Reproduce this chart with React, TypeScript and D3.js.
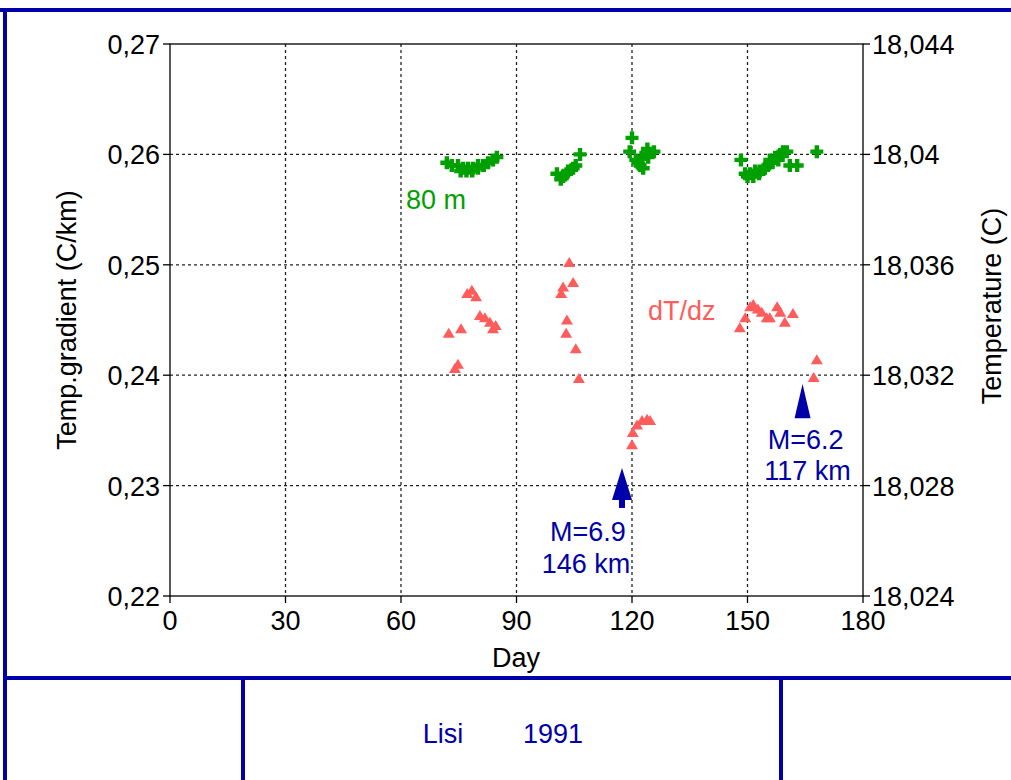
import React from "react";
import * as d3 from "d3";

// ---- data ----
const xTicks = [0, 30, 60, 90, 120, 150, 180];
const leftTicks = [0.22, 0.23, 0.24, 0.25, 0.26, 0.27];
const rightTicks = [18.024, 18.028, 18.032, 18.036, 18.04, 18.044];

// 80 m temperature (C), right axis
const tempDays = [71.9, 73.2, 74.8, 76.1, 77.4, 78.7, 80.0, 81.3, 82.6, 83.9, 84.9,
  75.5, 77.0, 78.5, 80.0, 81.5,
  100.5, 102.1, 103.4, 104.7, 105.4, 106.5, 101.5, 103.0,
  119.4, 120.0, 121.0, 122.1, 122.9, 124.2, 125.7, 123.7, 121.5, 122.5, 124.0,
  148.3, 149.4, 150.7, 152.0, 153.2, 154.5, 155.3, 155.8, 157.2, 158.0, 159.2, 160.2, 161.0, 162.9, 168.0,
  150.0, 151.5, 153.0, 156.5, 158.5];
const tempVals = [18.0397, 18.0396, 18.0396, 18.0395, 18.0395, 18.0395, 18.0396, 18.0396, 18.0397, 18.0398, 18.0399,
  18.0394, 18.0394, 18.0394, 18.0395, 18.0396,
  18.0393, 18.0392, 18.0394, 18.0395, 18.0396, 18.0400, 18.0391, 18.0393,
  18.0401, 18.0406, 18.0398, 18.0396, 18.0395, 18.0399, 18.0401, 18.0400, 18.0397, 18.0399, 18.0402,
  18.0398, 18.0393, 18.0393, 18.0394, 18.0394, 18.0395, 18.0396, 18.0398, 18.0399, 18.0398, 18.0401, 18.0401, 18.0396, 18.0396, 18.0401,
  18.0392, 18.0392, 18.0393, 18.0397, 18.0400];

// dT/dz (C/km), left axis
const gradDays = [72.4, 74.0, 74.8, 75.6, 77.2, 78.4, 79.5, 80.5, 81.8, 83.1, 83.9, 84.6,
  101.6, 102.1, 103.7, 104.7, 103.1, 102.9, 105.4, 106.2,
  120.0, 120.2, 121.3, 122.6, 123.9, 124.7,
  148.0, 149.4, 150.7, 151.5, 152.7, 153.7, 155.0, 155.8, 157.7, 158.5, 159.7, 161.8, 168.0, 167.2];
const gradVals = [0.2438, 0.2406, 0.2410, 0.2442, 0.2474, 0.2477, 0.2471, 0.2454, 0.2452, 0.2448, 0.2442, 0.2445,
  0.2474, 0.2480, 0.2502, 0.2484, 0.2450, 0.2438, 0.2424, 0.2397,
  0.2337, 0.2348, 0.2355, 0.2359, 0.2360, 0.2359,
  0.2443, 0.2452, 0.2462, 0.2464, 0.2460, 0.2457, 0.2452, 0.2452, 0.2462, 0.2457, 0.2448, 0.2456, 0.2414, 0.2398];

// earthquakes
const quakeDays = [117.4, 164.3];
const quakeMags = ["6.9", "6.2"];
const quakeDist = ["146 km", "117 km"];
const quakeBase = [0.2287, 0.2361];
const quakeTip = [0.2316, 0.2392];

const GREEN = "#00a000";
const RED = "#ff5c5c";
const BLUE = "#0000a8";
const FONT = "'Liberation Sans', Arial, sans-serif";

export default function App() {
  const x = d3.scaleLinear().domain([0, 180]).range([170, 863]);
  const yL = d3.scaleLinear().domain([0.22, 0.27]).range([596, 44]);
  const yR = d3.scaleLinear().domain([18.024, 18.044]).range([596, 44]);
  const fmtL = (v: number) => d3.format(".2f")(v).replace(".", ",");
  const fmtR = (v: number) => {
    const s = d3.format(".3f")(v);
    return (s.endsWith("0") ? s.slice(0, -1) : s).replace(".", ",");
  };
  const fs = 27;

  const cross = (cx: number, cy: number, k: number) => (
    <path key={k} d={`M${cx - 6.5},${cy - 2.2}h4.3v-4.3h4.4v4.3h4.3v4.4h-4.3v4.3h-4.4v-4.3h-4.3z`} fill={GREEN} />
  );
  const tri = (cx: number, cy: number, k: number) => (
    <path key={k} d={`M${cx},${cy - 5.5}L${cx + 6},${cy + 4.5}L${cx - 6},${cy + 4.5}Z`} fill={RED} />
  );

  return (
    <svg width={1011} height={780} style={{ position: "absolute", left: 0, top: 0, background: "#fff" }}
      fontFamily={FONT}>
      {/* frame */}
      <g stroke={BLUE} strokeWidth={4} fill="none">
        <line x1={0} y1={10} x2={1011} y2={10} />
        <line x1={5} y1={8} x2={5} y2={780} />
        <line x1={3} y1={678} x2={1011} y2={678} />
        <line x1={243} y1={678} x2={243} y2={780} />
        <line x1={781} y1={678} x2={781} y2={780} />
      </g>
      <text x={443} y={743} fontSize={fs} fill={BLUE} textAnchor="middle">Lisi</text>
      <text x={553} y={743} fontSize={fs} fill={BLUE} textAnchor="middle">1991</text>

      {/* grid */}
      <g stroke="#222" strokeWidth={1.3} strokeDasharray="3,3">
        {xTicks.slice(1, -1).map((t) => (
          <line key={"gx" + t} x1={x(t)} x2={x(t)} y1={44} y2={596} />
        ))}
        {leftTicks.slice(1, -1).map((t) => (
          <line key={"gy" + t} x1={170} x2={863} y1={yL(t)} y2={yL(t)} />
        ))}
      </g>

      {/* axes frame */}
      <rect x={170} y={44} width={693} height={552} fill="none" stroke="#000" strokeWidth={1.3} />
      <g stroke="#000" strokeWidth={1.3}>
        {xTicks.map((t) => (
          <line key={"tx" + t} x1={x(t)} x2={x(t)} y1={596} y2={603} />
        ))}
        {leftTicks.map((t) => (
          <line key={"tl" + t} x1={163} x2={170} y1={yL(t)} y2={yL(t)} />
        ))}
        {rightTicks.map((t) => (
          <line key={"tr" + t} x1={863} x2={870} y1={yR(t)} y2={yR(t)} />
        ))}
      </g>
      <g fontSize={fs} fill="#000">
        {xTicks.map((t) => (
          <text key={"lx" + t} x={x(t)} y={630} textAnchor="middle">{t}</text>
        ))}
        {leftTicks.map((t) => (
          <text key={"ll" + t} x={160} y={yL(t) + 10} textAnchor="end">{fmtL(t)}</text>
        ))}
        {rightTicks.map((t) => (
          <text key={"lr" + t} x={872} y={yR(t) + 10} textAnchor="start">{fmtR(t)}</text>
        ))}
        <text x={516} y={667} textAnchor="middle">Day</text>
        <text transform={`translate(76,320) rotate(-90)`} textAnchor="middle">Temp.gradient (C/km)</text>
        <text transform={`translate(1001,306) rotate(-90)`} textAnchor="middle">Temperature (C)</text>
      </g>

      {/* series */}
      <g>{tempDays.map((d, i) => cross(x(d), yR(tempVals[i]), i))}</g>
      <g>{gradDays.map((d, i) => tri(x(d), yL(gradVals[i]), i))}</g>

      {/* earthquakes */}
      {quakeDays.map((d, i) => {
        const cx = x(d);
        const b = yL(quakeBase[i]);
        const t = yL(quakeTip[i]);
        const w = i === 0 ? 10 : 8;
        return (
          <g key={"q" + i} fill={BLUE}>
            <path d={`M${cx},${t}L${cx + w},${b}L${cx - w},${b}Z`} />
            {i === 0 && <rect x={cx - 3} y={b} width={6} height={8} />}
          </g>
        );
      })}
      <g fontSize={fs} fill={BLUE} textAnchor="middle">
        <text x={x(quakeDays[0]) - 34} y={541}>{"M=" + quakeMags[0]}</text>
        <text x={x(quakeDays[0]) - 36} y={573}>{quakeDist[0]}</text>
        <text x={x(quakeDays[1]) + 3} y={449}>{"M=" + quakeMags[1]}</text>
        <text x={x(quakeDays[1]) + 5} y={480}>{quakeDist[1]}</text>
      </g>

      <text x={406} y={209} fontSize={fs} fill={GREEN}>80 m</text>
      <text x={648} y={320} fontSize={fs} fill={RED}>dT/dz</text>
    </svg>
  );
}
